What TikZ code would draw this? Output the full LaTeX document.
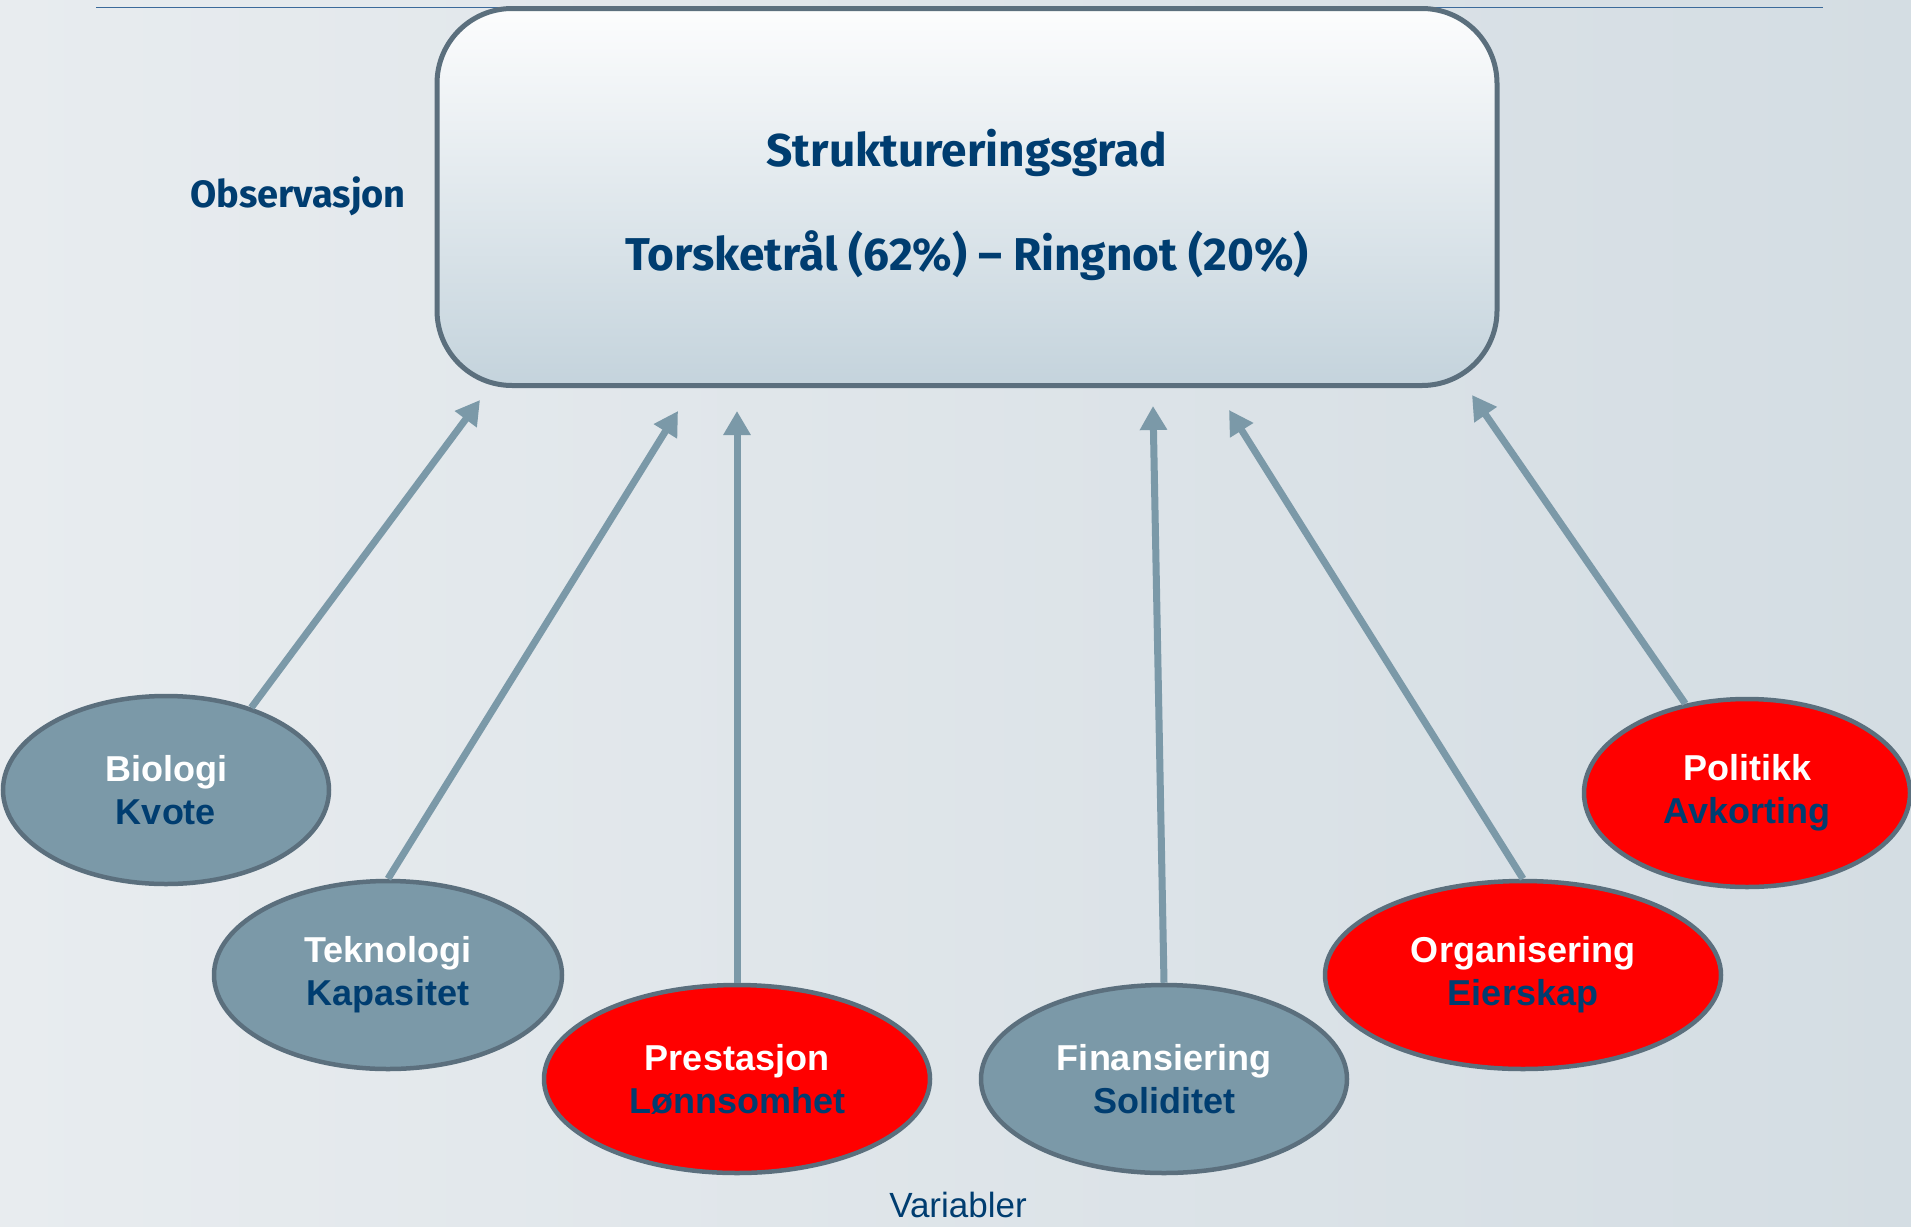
\documentclass[tikz,border=0pt]{standalone}
\usepackage{fontspec}
\setmainfont{Liberation Sans}
\newfontfamily\handfont{Fira Sans}
\usetikzlibrary{arrows.meta,shapes.geometric}

\definecolor{boxline}{HTML}{5B6F7D}
\definecolor{slate}{HTML}{7B99A8}
\definecolor{navy}{HTML}{003D70}
\definecolor{rulecol}{HTML}{3B6A9A}
\definecolor{bgleft}{HTML}{E8ECEF}
\definecolor{bgmid}{HTML}{F9FAFB}
\definecolor{bgright}{HTML}{D4DDE3}

\tikzset{
  var/.style={ellipse, draw=boxline, line width=4.5pt, minimum width=#1,
    minimum height=188pt, inner sep=0pt, align=center, text=white,
    font=\fontsize{36}{43}\selectfont\bfseries},
  cool/.style={fill=slate},
  hot/.style={fill=red},
  pil/.style={-{Triangle[length=24pt,width=26pt]}, draw=slate, line width=7pt}
}

\begin{document}
\begin{tikzpicture}[x=1pt,y=-1pt]
  \useasboundingbox (0,0) rectangle (1911,1226);
  \shade[left color=bgleft, middle color=bgmid, right color=bgright] (0,0) rectangle (1911,1226);
  \draw[rulecol, line width=1.5pt] (96,7.5) -- (1823,7.5);

  % observation box
  \node[draw=boxline, line width=5pt, rounded corners=75pt, top color=white!60!bgmid,
    bottom color={rgb,255:red,196;green,211;blue,220}, minimum width=1060pt, minimum height=377pt,
    align=center, text=navy, font=\handfont\fontsize{46}{54}\selectfont\bfseries]
    (grad) at (967,197) {\rule{0pt}{10pt}\\[-11pt]Struktureringsgrad\\[50pt]Torsketrål (62\%) – Ringnot (20\%)};
  \node[text=navy, font=\handfont\fontsize{38}{44}\selectfont\bfseries] (obs) at (298,196) {Observasjon};

  % variables
  \node[var=326pt, cool] (bio) at (166,790) {Biologi\\{\color{navy}Kvote}};
  \node[var=348pt, cool] (tek) at (388,975) {Teknologi\\{\color{navy}Kapasitet}};
  \node[var=386pt, hot] (pre) at (737,1079) {Prestasjon\\{\color{navy}Lønnsomhet}};
  \node[var=366pt, cool] (fin) at (1164,1079) {Finansiering\\{\color{navy}Soliditet}};
  \node[var=396pt, hot] (org) at (1523,975) {Organisering\\{\color{navy}Eierskap}};
  \node[var=326pt, hot] (pol) at (1747,793) {Politikk\\{\color{navy}Avkorting}};
  \node[text=navy, font=\fontsize{35}{42}\selectfont] (var) at (958,1205) {Variabler};

  \coordinate (a1) at (480,400);
  \coordinate (a2) at (678,411);
  \coordinate (a3) at (737,411);
  \coordinate (a4) at (1153,406);
  \coordinate (a5) at (1229,410);
  \coordinate (a6) at (1472,395);

  \draw[pil] (bio.44) -- (a1);
  \draw[pil] (tek.north) -- (a2);
  \draw[pil] (pre.north) -- (a3);
  \draw[pil] (fin.north) -- (a4);
  \draw[pil] (org.north) -- (a5);
  \draw[pil] (pol) -- (a6);
\end{tikzpicture}
\end{document}
